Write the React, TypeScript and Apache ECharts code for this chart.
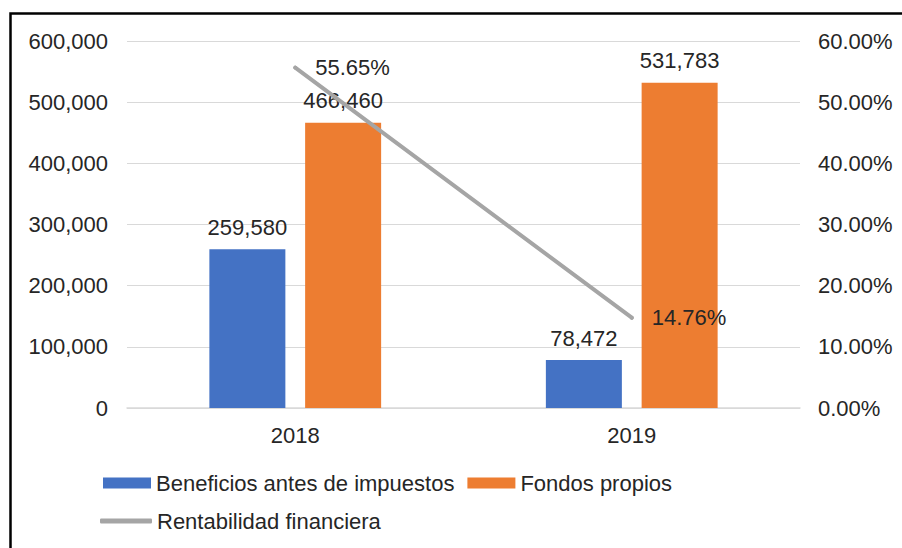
import React, { useEffect, useRef } from "react";
import * as echarts from "echarts";

const categories = ["2018", "2019"];
const beneficios = [259580, 78472];
const fondos = [466460, 531783];
const rentabilidad = [0.5565, 0.1476];
const leftTicks = { min: 0, max: 600000, interval: 100000 };
const rightTicks = { min: 0, max: 0.6, interval: 0.1 };
const seriesNames = ["Beneficios antes de impuestos", "Fondos propios", "Rentabilidad financiera"];

const FONT = "Liberation Sans, Arial, sans-serif";
const TXT = "#262626";

export default function App() {
  const ref = useRef<HTMLDivElement>(null);
  useEffect(() => {
    if (!ref.current) return;
    const chart = echarts.init(ref.current, undefined, { renderer: "svg" });
    const fmtNum = (v: number) => v.toLocaleString("en-US");
    const fmtPct = (v: number) => (v * 100).toFixed(2) + "%";
    const barLabel = {
      show: true,
      position: "top",
      distance: 11,
      fontSize: 22,
      color: TXT,
      fontFamily: FONT,
      formatter: (p: any) => fmtNum(p.value),
    };
    chart.setOption({
      animation: false,
      backgroundColor: "#ffffff",
      textStyle: { fontFamily: FONT },
      graphic: [
        {
          type: "rect",
          shape: { x: 10.5, y: 13.5, width: 1000, height: 1000 },
          style: { fill: "none", stroke: "#000", lineWidth: 2.5 },
          silent: true,
          z: 100,
        },
      ],
      grid: { left: 127, right: 102, top: 41, bottom: 140 },
      legend: [
        {
          data: [seriesNames[0], seriesNames[1]],
          left: 103,
          top: 472,
          padding: 0,
          itemWidth: 48,
          itemHeight: 11,
          itemGap: 13,
          icon: "rect",
          textStyle: { fontSize: 22, color: TXT, fontFamily: FONT },
        },
        {
          data: [{ name: seriesNames[2], icon: "roundRect" }],
          left: 100,
          top: 510,
          padding: 0,
          itemWidth: 52,
          itemHeight: 5,
          textStyle: { fontSize: 22, color: TXT, fontFamily: FONT },
        },
      ],
      xAxis: {
        type: "category",
        data: categories,
        axisTick: { show: false },
        axisLine: { lineStyle: { color: "#d9d9d9", width: 1.5 } },
        axisLabel: { fontSize: 22, color: TXT, margin: 16, fontFamily: FONT },
      },
      yAxis: [
        {
          type: "value",
          min: leftTicks.min,
          max: leftTicks.max,
          interval: leftTicks.interval,
          axisLine: { show: false },
          axisTick: { show: false },
          splitLine: { lineStyle: { color: "#d9d9d9", width: 1 } },
          axisLabel: { fontSize: 22, color: TXT, margin: 19, fontFamily: FONT, formatter: fmtNum },
        },
        {
          type: "value",
          min: rightTicks.min,
          max: rightTicks.max,
          interval: rightTicks.interval,
          axisLine: { show: false },
          axisTick: { show: false },
          splitLine: { show: false },
          axisLabel: { fontSize: 22, color: TXT, margin: 18, fontFamily: FONT, formatter: fmtPct },
        },
      ],
      series: [
        {
          name: seriesNames[0],
          type: "bar",
          data: beneficios,
          barWidth: 76,
          barGap: "26%",
          itemStyle: { color: "#4472C4" },
          label: barLabel,
        },
        {
          name: seriesNames[1],
          type: "bar",
          data: fondos,
          barWidth: 76,
          barGap: "26%",
          itemStyle: { color: "#ED7D31" },
          label: barLabel,
        },
        {
          name: seriesNames[2],
          type: "line",
          yAxisIndex: 1,
          data: rentabilidad,
          symbol: "circle",
          symbolSize: 4,
          itemStyle: { color: "#A5A5A5" },
          lineStyle: { color: "#A5A5A5", width: 4, cap: "round" },
          z: 5,
          label: {
            show: true,
            position: "right",
            distance: 18,
            fontSize: 22,
            color: TXT,
            fontFamily: FONT,
            formatter: (p: any) => fmtPct(p.value),
          },
        },
      ],
    });
    return () => chart.dispose();
  }, []);
  return (
    <div
      ref={ref}
      style={{ position: "fixed", left: 0, top: 0, width: 902, height: 548 }}
    />
  );
}
